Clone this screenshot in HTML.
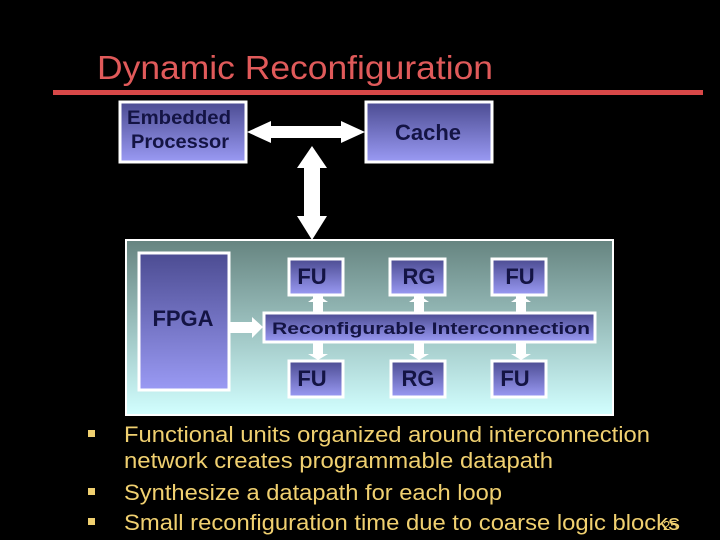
<!DOCTYPE html>
<html><head><meta charset="utf-8"><style>html,body{margin:0;padding:0;background:#000;}svg{display:block}</style></head>
<body>
<svg width="720" height="540" viewBox="0 0 720 540" xmlns="http://www.w3.org/2000/svg" font-family="Liberation Sans, sans-serif">
<defs>
<linearGradient id="bx" x1="0" y1="0" x2="0" y2="1"><stop offset="0" stop-color="#4c4c92"/><stop offset="1" stop-color="#9a9af4"/></linearGradient>
<linearGradient id="pn" x1="0" y1="0" x2="0" y2="1"><stop offset="0" stop-color="#668480"/><stop offset="1" stop-color="#d2ffff"/></linearGradient>
</defs>
<rect width="720" height="540" fill="#000"/>
<text x="97" y="79" font-size="33" fill="#e05a5a" textLength="396" lengthAdjust="spacingAndGlyphs">Dynamic Reconfiguration</text>
<rect x="53" y="90" width="650" height="5" fill="#d84848"/>

<g stroke="#fff" stroke-width="3">
<rect x="120" y="102" width="126" height="60" fill="url(#bx)"/>
<rect x="366" y="102" width="126" height="60" fill="url(#bx)"/>
</g>
<g fill="#fff">
<polygon points="247,132 271,121 271,126 341,126 341,121 365,132 341,143 341,138 271,138 271,143"/>
<polygon points="312,146 327,168 320,168 320,216 327,216 312,240 297,216 304,216 304,168 297,168"/>
</g>
<text x="179" y="124" font-size="19" font-weight="bold" fill="#141444" text-anchor="middle" textLength="104" lengthAdjust="spacingAndGlyphs">Embedded</text>
<text x="180" y="148" font-size="19" font-weight="bold" fill="#141444" text-anchor="middle" textLength="98" lengthAdjust="spacingAndGlyphs">Processor</text>
<text x="428" y="140" font-size="22" font-weight="bold" fill="#141444" text-anchor="middle">Cache</text>

<rect x="126" y="240" width="487" height="175" fill="url(#pn)" stroke="#fff" stroke-width="2"/>
<g stroke="#fff" stroke-width="3" fill="url(#bx)">
<rect x="139" y="253" width="90" height="137"/>
<rect x="289" y="259" width="54" height="36"/>
<rect x="390" y="259" width="55" height="36"/>
<rect x="492" y="259" width="54" height="36"/>
<rect x="264" y="313" width="331" height="29"/>
<rect x="289" y="361" width="54" height="36"/>
<rect x="391" y="361" width="54" height="36"/>
<rect x="492" y="361" width="54" height="36"/>
</g>
<g fill="#fff">
<polygon points="229,322 252,322 252,317 263,327 252,338 252,333 229,333"/>
<rect x="313" y="296" width="10" height="16"/><polygon points="308,302 318,295 328,302"/>
<rect x="414" y="296" width="10" height="16"/><polygon points="409,302 419,295 429,302"/>
<rect x="516" y="296" width="10" height="16"/><polygon points="511,302 521,295 531,302"/>
<rect x="313" y="343" width="10" height="12"/><polygon points="308,354 318,360 328,354"/>
<rect x="414" y="343" width="10" height="12"/><polygon points="409,354 419,360 429,354"/>
<rect x="516" y="343" width="10" height="12"/><polygon points="511,354 521,360 531,354"/>
</g>
<g font-size="22" font-weight="bold" fill="#141444" text-anchor="middle">
<text x="183" y="326">FPGA</text>
<text x="312" y="284">FU</text>
<text x="419" y="284">RG</text>
<text x="520" y="284">FU</text>
<text x="312" y="386">FU</text>
<text x="418" y="386">RG</text>
<text x="515" y="386">FU</text>
</g>
<text x="272" y="334" font-size="17" font-weight="bold" fill="#141444" textLength="318" lengthAdjust="spacingAndGlyphs">Reconfigurable Interconnection</text>

<g fill="#f0d070">
<rect x="88" y="430" width="7" height="7"/>
<rect x="88" y="488" width="7" height="7"/>
<rect x="88" y="518" width="7" height="7"/>
</g>
<g font-size="22" fill="#f0d070">
<text x="124" y="442" textLength="526" lengthAdjust="spacingAndGlyphs">Functional units organized around interconnection</text>
<text x="124" y="468" textLength="429" lengthAdjust="spacingAndGlyphs">network creates programmable datapath</text>
<text x="124" y="500" textLength="378" lengthAdjust="spacingAndGlyphs">Synthesize a datapath for each loop</text>
<text x="124" y="530" textLength="556" lengthAdjust="spacingAndGlyphs">Small reconfiguration time due to coarse logic blocks</text>
</g>
<text x="663" y="530" font-size="13" fill="#f0d070">25</text>
</svg>
</body></html>
